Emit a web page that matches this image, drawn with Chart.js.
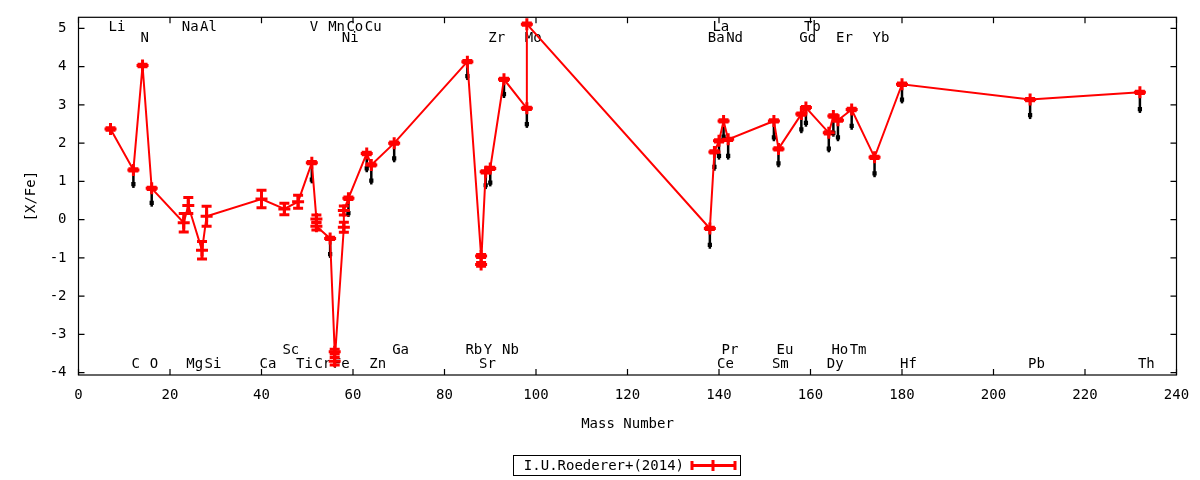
<!DOCTYPE html>
<html lang="en">
<head>
    <meta charset="UTF-8">
    <title>[X/Fe] vs Mass Number</title>
    <script src="https://cdn.jsdelivr.net/npm/chart.js"></script>
    <style>
        body { margin: 0; background: #fff; }
        #wrap { width: 1200px; height: 480px; }
    </style>
</head>
<body>
    <div id="wrap"><canvas id="abundChart"></canvas></div>

    <script>
        // Species in mass order (some have two measurements at the same mass number)
        const species = ['Li', 'C', 'N', 'O', 'Na', 'Mg', 'Al', 'Si', 'Ca', 'Sc', 'Ti', 'V', 'Cr', 'Cr', 'Mn', 'Fe', 'Fe',
            'Ni', 'Ni', 'Co', 'Cu', 'Zn', 'Ga', 'Rb', 'Sr', 'Sr', 'Y', 'Zr', 'Nb', 'Mo', 'Mo',
            'Ba', 'La', 'Ce', 'Pr', 'Nd', 'Sm', 'Eu', 'Gd', 'Tb', 'Dy', 'Ho', 'Er', 'Tm', 'Yb', 'Hf', 'Pb', 'Th'];
        const massNumbers = [7, 12, 14, 16, 23, 24, 27, 28, 40, 45, 48, 51, 52, 52, 55, 56, 56,
            58, 58, 59, 63, 64, 69, 85, 88, 88, 89, 90, 93, 98, 98,
            138, 139, 140, 141, 142, 152, 153, 158, 159, 164, 165, 166, 169, 174, 180, 208, 232];
        const xFe = [2.37, 1.30, 4.03, 0.82, -0.08, 0.37, -0.80, 0.09, 0.54, 0.28, 0.47, 1.49, 0.02, -0.17, -0.49, -3.45, -3.70,
            -0.20, 0.24, 0.56, 1.73, 1.43, 2.00, 4.13, -0.95, -1.17, 1.25, 1.34, 3.67, 2.91, 5.11,
            -0.23, 1.77, 2.06, 2.58, 2.10, 2.58, 1.85, 2.76, 2.93, 2.27, 2.71, 2.60, 2.88, 1.63, 3.54, 3.14, 3.33];
        const xFeErr = [0.03, 0.03, 0.03, 0.03, 0.24, 0.21, 0.23, 0.26, 0.23, 0.15, 0.17, 0.03, 0.10, 0.10, 0.03, 0.06, 0.10,
            0.13, 0.12, 0.03, 0.03, 0.03, 0.03, 0.03, 0.04, 0.05, 0.03, 0.03, 0.03, 0.03, 0.03,
            0.03, 0.03, 0.03, 0.03, 0.03, 0.03, 0.03, 0.03, 0.03, 0.03, 0.03, 0.03, 0.03, 0.03, 0.03, 0.03, 0.03];
        // black comparison marks below the red points (null = none drawn)
        const compValues = [null, 0.93, null, 0.44, null, null, null, null, null, null, null, 1.05, null, null, -0.90, null, null,
            null, null, 0.17, 1.34, 1.02, 1.60, 3.75, null, null, 0.90, 0.97, 3.28, 2.50, null,
            -0.66, 1.38, 1.67, 2.17, 1.67, 2.15, 1.47, 2.36, 2.53, 1.86, 2.27, 2.15, 2.45, 1.21, 3.14, 2.73, 2.89];

        const xTicks = [0, 20, 40, 60, 80, 100, 120, 140, 160, 180, 200, 220, 240];
        const yTicks = [-4, -3, -2, -1, 0, 1, 2, 3, 4, 5];

        // element name labels, by row (top two rows, bottom two rows)
        const labelRows = [
            ['Li', 'Na', 'Al', 'V', 'Mn', 'Co', 'Cu', 'La', 'Tb'],
            ['N', 'Ni', 'Zr', 'Mo', 'Ba', 'Nd', 'Gd', 'Er', 'Yb'],
            ['Sc', 'Ga', 'Rb', 'Y', 'Nb', 'Pr', 'Eu', 'Ho', 'Tm'],
            ['C', 'O', 'Mg', 'Si', 'Ca', 'Ti', 'Cr', 'Fe', 'Zn', 'Sr', 'Ce', 'Sm', 'Dy', 'Hf', 'Pb', 'Th']
        ];
        const labelRowY = [5.04, 4.75, -3.41, -3.77];

        const FONT = '"DejaVu Sans Mono", monospace';
        const RED = '#ff0000';

        const redPoints = massNumbers.map((m, i) => ({ x: m, y: xFe[i] }));
        const blackPoints = [];
        compValues.forEach((v, i) => { if (v !== null) blackPoints.push({ x: massNumbers[i], y: v }); });

        const gnuplotLook = {
            id: 'gnuplotLook',
            beforeDatasetsDraw(chart) {
                const { ctx, scales: { x, y } } = chart;
                ctx.save();

                // element labels
                ctx.font = '14px ' + FONT;
                ctx.fillStyle = '#000';
                ctx.textAlign = 'left';
                ctx.textBaseline = 'middle';
                labelRows.forEach((row, r) => {
                    row.forEach(name => {
                        const m = massNumbers[species.indexOf(name)];
                        ctx.fillText(name, x.getPixelForValue(m) - 2, y.getPixelForValue(labelRowY[r]));
                    });
                });

                // black bars hanging below red points
                ctx.strokeStyle = '#000';
                ctx.lineWidth = 2.5;
                compValues.forEach((v, i) => {
                    if (v === null) return;
                    const px = x.getPixelForValue(massNumbers[i]);
                    ctx.beginPath();
                    ctx.moveTo(px, y.getPixelForValue(v - 0.1));
                    ctx.lineTo(px, y.getPixelForValue(xFe[i]));
                    ctx.stroke();
                });

                // red error bars
                ctx.strokeStyle = RED;
                ctx.lineWidth = 3;
                xFe.forEach((v, i) => {
                    const px = x.getPixelForValue(massNumbers[i]);
                    const top = y.getPixelForValue(v + xFeErr[i]);
                    const bot = y.getPixelForValue(v - xFeErr[i]);
                    ctx.beginPath();
                    ctx.moveTo(px, top); ctx.lineTo(px, bot);
                    ctx.moveTo(px - 5, top); ctx.lineTo(px + 5, top);
                    ctx.moveTo(px - 5, bot); ctx.lineTo(px + 5, bot);
                    ctx.stroke();
                });
                ctx.restore();
            },
            afterDraw(chart) {
                const { ctx, chartArea: a, scales: { x, y } } = chart;
                ctx.save();
                ctx.strokeStyle = '#000';
                ctx.lineWidth = 1.2;
                ctx.strokeRect(a.left, a.top, a.right - a.left, a.bottom - a.top);

                // inward ticks on all four sides
                ctx.beginPath();
                xTicks.forEach(v => {
                    const px = x.getPixelForValue(v);
                    ctx.moveTo(px, a.bottom); ctx.lineTo(px, a.bottom - 6);
                    ctx.moveTo(px, a.top); ctx.lineTo(px, a.top + 6);
                });
                yTicks.forEach(v => {
                    const py = y.getPixelForValue(v);
                    ctx.moveTo(a.left, py); ctx.lineTo(a.left + 6, py);
                    ctx.moveTo(a.right, py); ctx.lineTo(a.right - 6, py);
                });
                ctx.stroke();

                // legend box
                ctx.lineWidth = 1;
                ctx.strokeRect(513.5, 455.5, 227, 20);
                ctx.font = '14px ' + FONT;
                ctx.fillStyle = '#000';
                ctx.textAlign = 'right';
                ctx.textBaseline = 'middle';
                ctx.fillText(chart.data.datasets[0].label, 684, 466);
                ctx.strokeStyle = RED;
                ctx.lineWidth = 3;
                ctx.beginPath();
                ctx.moveTo(692, 465.5); ctx.lineTo(735, 465.5);
                ctx.moveTo(692, 461); ctx.lineTo(692, 470);
                ctx.moveTo(735, 461); ctx.lineTo(735, 470);
                ctx.moveTo(713, 460); ctx.lineTo(713, 471);
                ctx.stroke();
                ctx.restore();
            }
        };

        const ctx = document.getElementById('abundChart').getContext('2d');
        new Chart(ctx, {
            type: 'scatter',
            data: {
                datasets: [
                    {
                        label: 'I.U.Roederer+(2014)',
                        data: redPoints,
                        showLine: true,
                        borderColor: RED,
                        borderWidth: 2,
                        pointStyle: 'cross',
                        pointRadius: 6,
                        pointBorderWidth: 3,
                        pointBorderColor: RED,
                        pointHoverRadius: 6,
                        order: 1
                    },
                    {
                        label: 'comparison',
                        data: blackPoints,
                        pointStyle: 'rect',
                        pointRadius: 3,
                        backgroundColor: '#000',
                        borderColor: '#000',
                        borderWidth: 0,
                        order: 2
                    }
                ]
            },
            options: {
                responsive: true,
                maintainAspectRatio: false,
                animation: false,
                layout: { padding: { left: 0, right: 23.5, top: 17.3, bottom: 0 } },
                plugins: { legend: { display: false }, tooltip: { enabled: false } },
                scales: {
                    x: {
                        type: 'linear',
                        min: 0,
                        max: 240,
                        afterBuildTicks: s => { s.ticks = xTicks.map(v => ({ value: v })); },
                        afterFit: s => { s.height = 105; s.paddingLeft = 0; s.paddingRight = 0; },
                        grid: { display: false, drawTicks: false },
                        border: { display: false },
                        ticks: { padding: 12, color: '#000', font: { family: FONT, size: 14 }, maxRotation: 0, autoSkip: false },
                        title: { display: true, text: 'Mass Number', color: '#000', font: { family: FONT, size: 14 }, padding: { top: 0, bottom: 47.6 } }
                    },
                    y: {
                        type: 'linear',
                        min: -4.06,
                        max: 5.29,
                        afterBuildTicks: s => { s.ticks = yTicks.map(v => ({ value: v })); },
                        afterFit: s => { s.width = 78.5; s.paddingTop = 0; s.paddingBottom = 0; },
                        grid: { display: false, drawTicks: false },
                        border: { display: false },
                        ticks: { padding: 12, color: '#000', font: { family: FONT, size: 14 }, autoSkip: false },
                        title: { display: true, text: '[X/Fe]', color: '#000', font: { family: FONT, size: 14 }, padding: { top: 22.6, bottom: 0 } }
                    }
                }
            },
            plugins: [gnuplotLook]
        });
    </script>
</body>
</html>
